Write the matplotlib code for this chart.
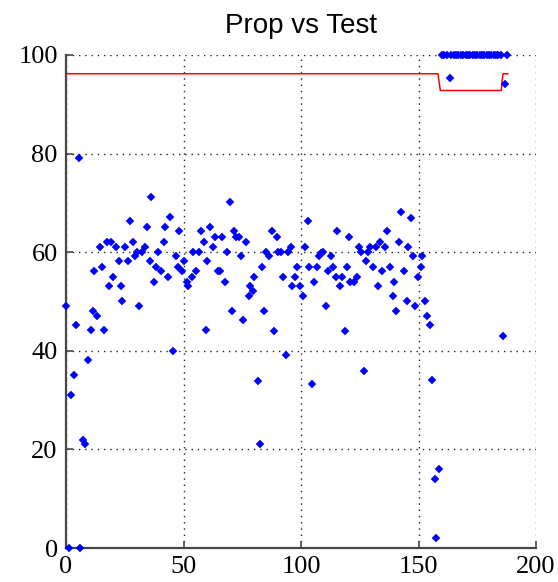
import matplotlib
matplotlib.use("Agg")
import matplotlib.pyplot as plt

# per-test proportion (blue diamonds)
test_x = [0, 1.3, 2.3, 3.3, 4.4, 5.5, 6.1, 7.1, 8.2, 9.5,
          10.5, 11.4, 12.1, 13.2, 14.4, 15.5, 16.3, 17.3, 18.2, 19.2,
          20.2, 21.4, 22.6, 23.6, 24.0, 25.3, 26.4, 27.4, 28.5, 29.5,
          30.1, 31.2, 32.4, 33.5, 34.6, 35.7, 36.1, 37.4, 38.5, 39.3,
          40.5, 41.6, 42.2, 43.3, 44.3, 45.5, 46.6, 47.6, 48.1, 49.3,
          50.4, 51.4, 52.1, 53.7, 54.0, 55.4, 56.4, 57.5, 58.7, 59.5,
          60.2, 61.4, 62.5, 63.5, 64.5, 65.6, 66.2, 67.5, 68.5, 69.6,
          70.7, 71.6, 72.3, 73.4, 74.4, 75.5, 76.6, 77.7, 78.4, 79.5,
          80.1, 81.6, 82.7, 83.6, 84.2, 85.2, 86.5, 87.5, 88.6, 89.8,
          90.3, 91.3, 92.5, 93.6, 94.6, 95.7, 96.2, 97.3, 98.4, 99.6,
          100.7, 101.8, 102.8, 103.4, 104.5, 105.5, 106.7, 107.5, 108.5, 109.4,
          110.6, 111.6, 112.6, 113.8, 114.9, 115.3, 116.5, 117.6, 118.7, 119.7,
          120.6, 121.0, 122.6, 123.9, 124.7, 125.7, 126.8, 127.5, 128.5, 129.5,
          130.8, 132.0, 132.9, 133.5, 134.5, 135.6, 136.8, 137.7, 139.0, 139.5,
          140.5, 141.6, 142.7, 143.9, 144.9, 145.4, 146.7, 147.7, 148.7, 149.8,
          151.0, 151.6, 152.6, 153.7, 154.8, 155.8, 156.9, 157.5, 158.6,
          160, 161, 162, 163.5, 164, 165, 166, 167, 168, 169,
          170, 171, 172, 173, 174, 175, 176, 177, 178, 179,
          180, 181, 182, 183, 184, 185, 185.9, 187, 187.5]
test_y = [49.1, 0, 31.1, 35.0, 45.2, 79.2, 0, 22.0, 21.0, 38.1,
          44.2, 48.0, 56.1, 47.0, 61.0, 57.1, 44.2, 62.1, 53.2, 62.1,
          55.0, 61.0, 58.2, 53.2, 50.1, 61.0, 58.2, 66.3, 62.1, 59.2,
          60.0, 49.1, 60.0, 61.0, 65.2, 58.2, 71.1, 54.0, 57.1, 60.0,
          56.1, 62.1, 65.2, 55.0, 67.1, 40.0, 59.2, 57.1, 64.2, 56.1,
          58.2, 54.0, 53.2, 55.0, 60.0, 56.1, 60.0, 64.2, 62.1, 44.2,
          58.2, 65.2, 61.0, 63.1, 56.1, 56.1, 63.1, 54.0, 60.0, 70.2,
          48.0, 64.2, 63.1, 63.1, 59.2, 46.2, 62.1, 51.2, 53.2, 52.2,
          55.0, 33.9, 21.0, 57.1, 48.0, 60.0, 59.2, 64.2, 44.1, 63.1,
          60.0, 60.0, 55.0, 39.1, 60.0, 61.0, 53.2, 55.0, 57.1, 53.2,
          51.2, 61.0, 66.3, 57.1, 33.2, 54.0, 57.1, 59.2, 59.8, 60.0,
          49.1, 56.1, 59.2, 57.1, 55.0, 64.2, 53.2, 55.0, 44.1, 57.1,
          63.1, 54.0, 54.0, 55.0, 61.0, 60.0, 36.0, 58.2, 60.0, 61.0,
          57.1, 61.0, 53.2, 62.1, 56.1, 61.0, 64.2, 57.1, 51.2, 54.0,
          48.0, 62.1, 68.1, 56.1, 50.1, 61.0, 67.0, 59.2, 49.1, 55.0,
          57.1, 59.2, 50.1, 47.0, 45.2, 34.0, 13.9, 2.0, 16.0,
          100, 100, 100, 95.4, 100, 100, 100, 100, 100, 100,
          100, 100, 100, 100, 100, 100, 100, 100, 100, 100,
          100, 100, 100, 100, 100, 100, 43.1, 94.1, 100]

# threshold curve (red)
thr_x = [0, 158.3, 158.6, 159.3, 185.2, 185.5, 186, 188]
thr_y = [96.2, 96.2, 95.0, 92.8, 92.8, 94.5, 96.2, 96.2]

fig = plt.figure(figsize=(5.58, 5.82), dpi=100)
ax = fig.add_axes([0.1183, 0.0584, 0.8423, 0.8471])

ax.plot(thr_x, thr_y, color="#ff0000", linewidth=1.1, zorder=3)
ax.plot(test_x, test_y, linestyle="none", marker="D", markersize=4.2,
        markerfacecolor="#0000ff", markeredgecolor="#0000ff",
        markeredgewidth=0.3, zorder=4, clip_on=False)

ax.set_xlim(0, 200)
ax.set_ylim(0, 100)
ax.set_xticks([0, 50, 100, 150, 200])
ax.set_yticks([0, 20, 40, 60, 80, 100])

ax.grid(True, color="#222222", linestyle=(0, (1, 3.5)), linewidth=1.0)
ax.set_axisbelow(True)

for side in ("top", "right"):
    ax.spines[side].set_visible(False)
for side in ("left", "bottom"):
    ax.spines[side].set_color("#484848")
    ax.spines[side].set_linewidth(1.6)

ax.tick_params(direction="in", length=5, width=1.2, colors="#484848",
               labelcolor="black", pad=6)
for lab in ax.get_xticklabels() + ax.get_yticklabels():
    lab.set_fontfamily("Liberation Serif")
    lab.set_fontsize(19)

ax.set_title("Prop vs Test", fontfamily="Liberation Sans", fontsize=20, pad=16)

fig.savefig("out.png", dpi=100)
